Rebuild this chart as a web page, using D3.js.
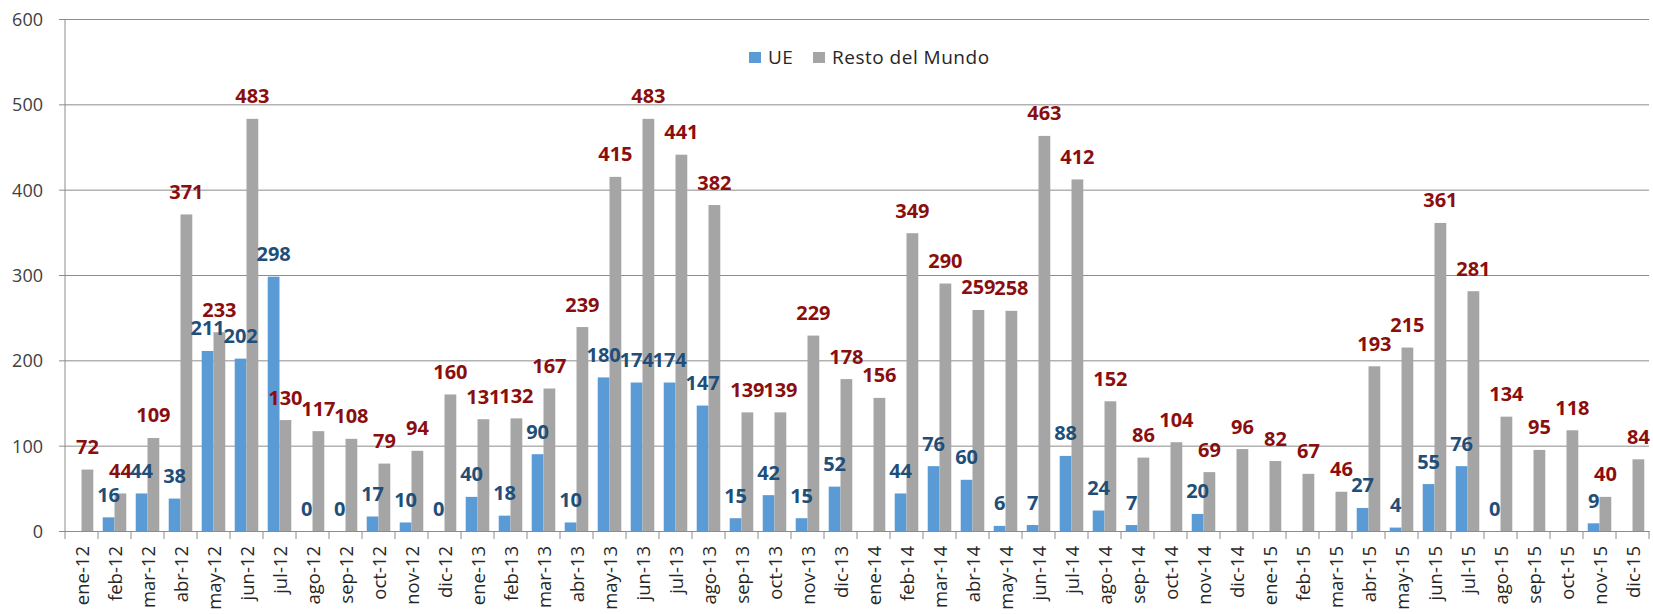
<!DOCTYPE html>
<html>
<head>
<meta charset="utf-8">
<script src="https://cdn.jsdelivr.net/npm/d3@7"></script>
<style>
  body { margin: 0; background: #fff; }
  #chart text { font-family: "Open Sans", sans-serif; }
</style>
</head>
<body>
<div id="chart"></div>
<script>
const months = ["ene","feb","mar","abr","may","jun","jul","ago","sep","oct","nov","dic"]
const years = ["12","13","14","15"]
const categories = years.flatMap(y => months.map(m => m + "-" + y))

// UE (null = no bar / no label)
const ue = [
  null, 16, 44, 38, 211, 202, 298, 0, 0, 17, 10, 0,
  40, 18, 90, 10, 180, 174, 174, 147, 15, 42, 15, 52,
  null, 44, 76, 60, 6, 7, 88, 24, 7, null, 20, null,
  null, null, null, 27, 4, 55, 76, 0, null, null, 9, null
]
const resto = [
  72, 44, 109, 371, 233, 483, 130, 117, 108, 79, 94, 160,
  131, 132, 167, 239, 415, 483, 441, 382, 139, 139, 229, 178,
  156, 349, 290, 259, 258, 463, 412, 152, 86, 104, 69, 96,
  82, 67, 46, 193, 215, 361, 281, 134, 95, 118, 40, 84
]
const yTicks = [0, 100, 200, 300, 400, 500, 600]
const seriesNames = ["UE", "Resto del Mundo"]

const W = 1653, H = 614
const x0 = 65, x1 = 1649, yTop = 19, yBot = 531
const colors = { "UE": "#5B9BD5", "Resto del Mundo": "#A5A5A5" }
const labelColors = { "UE": "#1F4E79", "Resto del Mundo": "#8B0E0E" }

const svg = d3.select("#chart").append("svg")
  .attr("width", W).attr("height", H)

const x = d3.scaleBand().domain(categories).range([x0, x1]).paddingInner(0).paddingOuter(0)
const y = d3.scaleLinear().domain([0, 600]).range([yBot, yTop])
const xs = d3.scaleBand().domain(seriesNames).range([0, x.bandwidth()]).paddingOuter(0.4).paddingInner(0)

// gridlines
svg.append("g")
  .attr("transform", "translate(" + x0 + ",0)")
  .call(d3.axisLeft(y).tickValues(yTicks).tickSize(-(x1 - x0)).tickSizeOuter(0).tickFormat(""))
  .call(g => g.select(".domain").remove())
  .call(g => g.selectAll("line").attr("stroke", "#8c8c8c").attr("x1", -6))

// y axis line + labels
svg.append("line").attr("x1", x0).attr("x2", x0).attr("y1", yTop).attr("y2", yBot).attr("stroke", "#8c8c8c")
svg.append("g").selectAll("text").data(yTicks).enter().append("text")
  .attr("x", 43).attr("y", d => y(d))
  .attr("text-anchor", "end").attr("dominant-baseline", "central")
  .attr("font-size", 18).attr("fill", "#404040")
  .text(d => d)

// x axis
svg.append("g")
  .attr("transform", "translate(0," + yBot + ")")
  .call(d3.axisBottom(x).tickSize(0).tickFormat(""))
  .call(g => g.select(".domain").attr("stroke", "#8c8c8c"))
svg.append("g").selectAll("line").data(d3.range(categories.length + 1)).enter().append("line")
  .attr("x1", i => x0 + i * x.step()).attr("x2", i => x0 + i * x.step())
  .attr("y1", yBot).attr("y2", yBot + 8).attr("stroke", "#8c8c8c")
svg.append("g").selectAll("text").data(categories).enter().append("text")
  .attr("transform", d => "translate(" + (x(d) + x.bandwidth() / 2) + "," + (yBot + 15) + ") rotate(-90)")
  .attr("text-anchor", "end").attr("dominant-baseline", "central")
  .attr("font-size", 18.5).attr("fill", "#262626")
  .text(d => d)

// bars
const rows = categories.map((c, i) => ({ cat: c, vals: [
  { s: "UE", v: ue[i] }, { s: "Resto del Mundo", v: resto[i] }
] }))

const groups = svg.append("g").selectAll("g").data(rows).enter().append("g")
  .attr("transform", d => "translate(" + x(d.cat) + ",0)")

groups.selectAll("rect").data(d => d.vals.filter(e => e.v !== null)).enter().append("rect")
  .attr("x", e => xs(e.s)).attr("width", xs.bandwidth())
  .attr("y", e => y(e.v)).attr("height", e => yBot - y(e.v))
  .attr("fill", e => colors[e.s])

groups.selectAll("text").data(d => d.vals.filter(e => e.v !== null)).enter().append("text")
  .attr("x", e => xs(e.s) + xs.bandwidth() / 2)
  .attr("y", e => y(e.v) - 15.5)
  .attr("text-anchor", "middle")
  .attr("font-size", 20).attr("font-weight", "bold")
  .attr("fill", e => labelColors[e.s])
  .text(e => e.v)

// legend
const legend = svg.append("g").attr("transform", "translate(749,52)")
const li = legend.selectAll("g").data(seriesNames).enter().append("g")
  .attr("transform", (d, i) => "translate(" + (i * 64) + ",0)")
li.append("rect").attr("width", 12).attr("height", 11).attr("fill", d => colors[d])
li.append("text").attr("x", 19).attr("y", 11.5).attr("font-size", 19)
  .attr("letter-spacing", 0.5).attr("fill", "#262626").text(d => d)
</script>
</body>
</html>
